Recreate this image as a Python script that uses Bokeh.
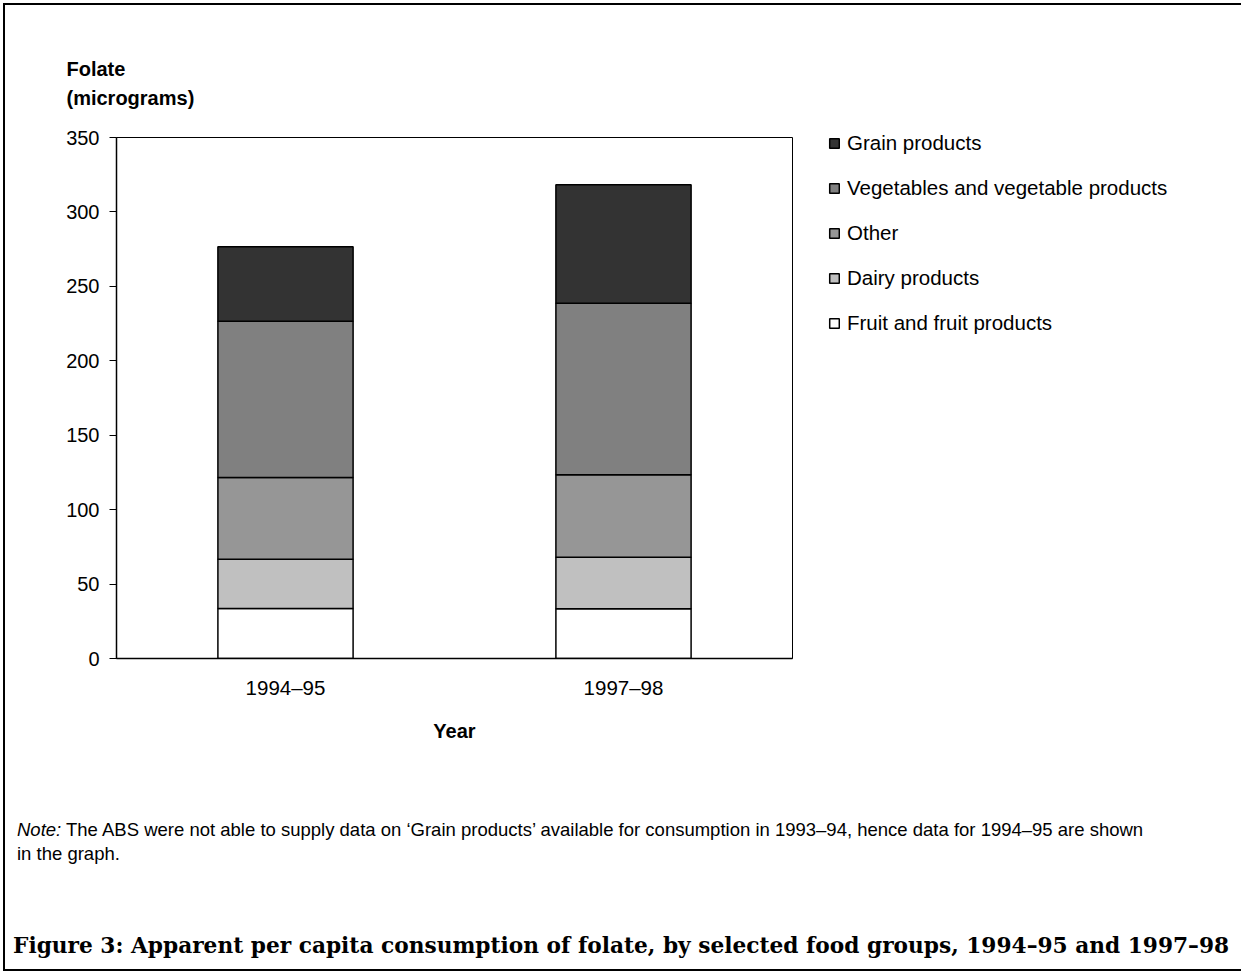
from bokeh.plotting import figure
from bokeh.layouts import column
from bokeh.models import (ColumnDataSource, FixedTicker, Legend, LegendItem, Title, Div)
from bokeh.embed import file_html
from bokeh.resources import INLINE

years = ["1994–95", "1997–98"]
groups = ["Fruit and fruit products", "Dairy products", "Other",
          "Vegetables and vegetable products", "Grain products"]
fruit = [33.6, 33.4]
dairy = [33.0, 34.6]
other = [55.0, 55.4]
vegetables = [105.0, 115.3]
grain = [50.0, 79.5]
colors = ["#FFFFFF", "#C0C0C0", "#969696", "#808080", "#333333"]
y_ticks = [0, 50, 100, 150, 200, 250, 300, 350]

keys = ["fruit", "dairy", "other", "veg", "grain"]
source = ColumnDataSource(dict(year=years, fruit=fruit, dairy=dairy,
                               other=other, veg=vegetables, grain=grain))

FONT = "Liberation Sans"
p = figure(x_range=years, y_range=(0, 350), frame_width=676, frame_height=521,
           output_backend="svg", toolbar_location=None,
           min_border_left=111, min_border_right=20,
           min_border_top=132, min_border_bottom=117)
p.x_range.range_padding = 0
p.xgrid.visible = False
p.ygrid.visible = False
p.outline_line_color = "black"
p.outline_line_width = 1
p.background_fill_color = "white"
p.border_fill_color = "white"

renderers = p.vbar_stack(keys, x="year", width=0.4, color=colors,
                         line_color="black", line_width=1.5, source=source)

yax = p.yaxis[0]
yax.ticker = FixedTicker(ticks=y_ticks)
yax.minor_tick_line_color = None
yax.major_tick_out = 7
yax.major_tick_in = 0
yax.major_label_standoff = 10
yax.major_label_text_font = FONT
yax.major_label_text_font_size = "20px"
yax.major_label_text_color = "black"
yax.axis_line_color = "black"
yax.axis_line_width = 1.5
yax.major_tick_line_color = "black"

xax = p.xaxis[0]
xax.major_tick_line_color = None
xax.minor_tick_line_color = None
xax.major_label_standoff = 11
xax.major_label_text_font = FONT
xax.major_label_text_font_size = "20.5px"
xax.major_label_text_color = "black"
xax.axis_line_color = "black"
xax.axis_line_width = 1.5
xax.axis_label = "Year"
xax.axis_label_text_font = FONT
xax.axis_label_text_font_style = "bold"
xax.axis_label_text_font_size = "20px"
xax.axis_label_text_color = "black"
xax.axis_label_standoff = 18

items = [LegendItem(label=groups[i], renderers=[renderers[i]]) for i in range(4, -1, -1)]
legend = Legend(items=items, location=(36, 323), padding=0, margin=0,
                border_line_color=None, background_fill_alpha=0,
                glyph_width=12, glyph_height=12, label_standoff=7,
                spacing=21, label_height=24, label_text_font=FONT,
                label_text_font_size="20.5px", label_text_color="black")
p.add_layout(legend, "right")

p.add_layout(Title(text="Folate\n(micrograms)", align="left", offset=-50, standoff=56,
                   text_font=FONT, text_font_size="20px", text_font_style="bold",
                   text_line_height=1.33, text_color="black"), "above")

note_html = (
    '<div style="position:relative;width:1231px;height:194px;font-family:\'Liberation Sans\';color:black;">'
    '<div style="position:absolute;left:12px;top:45.5px;font-size:18.5px;line-height:1;white-space:nowrap;">'
    '<i>Note:</i> The ABS were not able to supply data on ‘Grain products’ available for consumption in 1993–94, hence data for 1994–95 are shown</div>'
    '<div style="position:absolute;left:12px;top:69.5px;font-size:18.5px;line-height:1;white-space:nowrap;">in the graph.</div>'
    '<div style="position:absolute;left:8px;top:159.5px;font-family:\'DejaVu Serif\';font-weight:bold;font-size:21.7px;line-height:1;white-space:nowrap;">'
    'Figure 3: Apparent per capita consumption of folate, by selected food groups, 1994–95 and 1997–98</div>'
    '</div>'
)
note = Div(text=note_html, width=1231, height=194, margin=0)

layout = column(p, note, margin=(3, 3, 3, 3), spacing=0,
                styles={"border": "2px solid black"})

open("out.html", "w").write(file_html(layout, INLINE))
